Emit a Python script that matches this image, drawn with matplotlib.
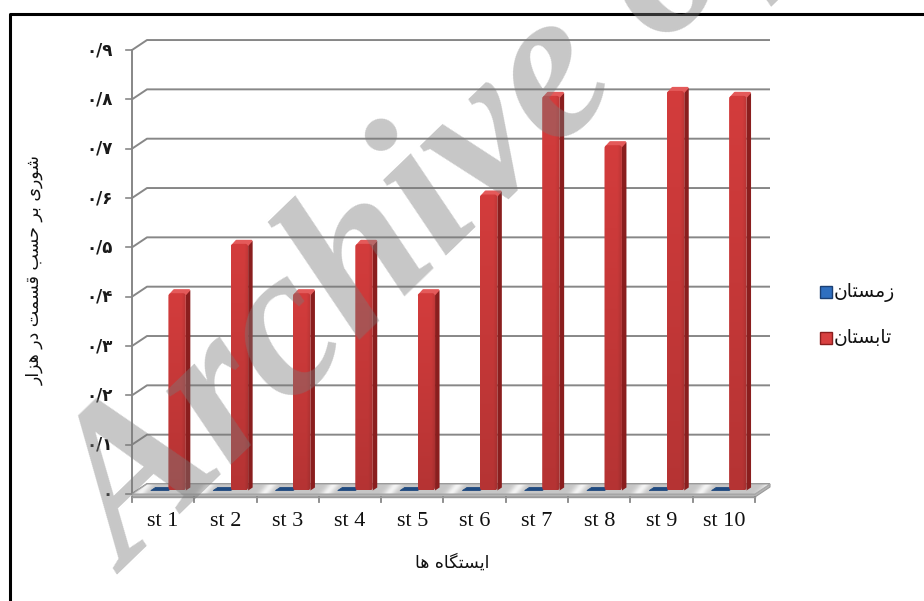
import numpy as np
import matplotlib
matplotlib.use("Agg")
import matplotlib.pyplot as plt
from matplotlib.patches import Polygon, Rectangle, FancyBboxPatch
from matplotlib import font_manager
from matplotlib.ft2font import FT2Font
from matplotlib.colors import to_rgb

# ---- data -------------------------------------------------------------
stations = ["st 1", "st 2", "st 3", "st 4", "st 5",
            "st 6", "st 7", "st 8", "st 9", "st 10"]
winter = [0, 0, 0, 0, 0, 0, 0, 0, 0, 0]
summer = [0.4, 0.5, 0.4, 0.5, 0.4, 0.6, 0.8, 0.7, 0.81, 0.8]
y_ticks = [0.0, 0.1, 0.2, 0.3, 0.4, 0.5, 0.6, 0.7, 0.8, 0.9]
y_tick_labels = ["۰", "۰/۱", "۰/۲", "۰/۳", "۰/۴", "۰/۵", "۰/۶", "۰/۷", "۰/۸", "۰/۹"]
series_names = ["زمستان", "تابستان"]
x_title = "ایستگاه ها"
y_title = "شوری بر حسب قسمت در هزار"
watermark = "Archive of SID"

# ---- simple Arabic-script shaping (contextual forms + right-to-left) ---
ARABIC_FONT = "DejaVu Sans"
_cmap = FT2Font(font_manager.findfont(font_manager.FontProperties(family=ARABIC_FONT))).get_charmap()

def _pick(preferred, fallback):
    return preferred if all(ord(c) in _cmap for c in preferred if c) else fallback

# isolated, final, initial, medial (None -> letter does not join to the next one)
FORMS = {
    "ا": ("\uFE8D", "\uFE8E", None, None),
    "ب": ("\uFE8F", "\uFE90", "\uFE91", "\uFE92"),
    "ت": ("\uFE95", "\uFE96", "\uFE97", "\uFE98"),
    "ح": ("\uFEA1", "\uFEA2", "\uFEA3", "\uFEA4"),
    "د": ("\uFEA9", "\uFEAA", None, None),
    "ر": ("\uFEAD", "\uFEAE", None, None),
    "ز": ("\uFEAF", "\uFEB0", None, None),
    "س": ("\uFEB1", "\uFEB2", "\uFEB3", "\uFEB4"),
    "ش": ("\uFEB5", "\uFEB6", "\uFEB7", "\uFEB8"),
    "ق": ("\uFED5", "\uFED6", "\uFED7", "\uFED8"),
    "م": ("\uFEE1", "\uFEE2", "\uFEE3", "\uFEE4"),
    "ن": ("\uFEE5", "\uFEE6", "\uFEE7", "\uFEE8"),
    "ه": ("\uFEE9", "\uFEEA", "\uFEEB", "\uFEEC"),
    "و": ("\uFEED", "\uFEEE", None, None),
    "ی": _pick(("\uFBFC", "\uFBFD", "\uFBFE", "\uFBFF"),
               ("\uFEEF", "\uFEF0", "\uFEF3", "\uFEF4")),
    "گ": _pick(("\uFB92", "\uFB93", "\uFB94", "\uFB95"),
               ("\uFED9", "\uFEDA", "\uFEDB", "\uFEDC")),
}

def shape(text):
    chars = list(text)
    out = []
    for i, c in enumerate(chars):
        if c not in FORMS:
            out.append(c)
            continue
        prev = chars[i - 1] if i > 0 else None
        nxt = chars[i + 1] if i + 1 < len(chars) else None
        iso, fin, ini, med = FORMS[c]
        join_prev = prev in FORMS and FORMS[prev][2] is not None
        join_next = nxt in FORMS and ini is not None
        if join_prev and join_next:
            out.append(med)
        elif join_prev:
            out.append(fin)
        elif join_next:
            out.append(ini)
        else:
            out.append(iso)
    return "".join(reversed(out))

# ---- geometry of the pseudo-3D plot -------------------------------------
W, H = 924, 601
X0_PX, CAT_PX = 132.0, 62.3      # front-left corner and width of one category
Y0_PX, VAL_PX = 494.0, 493.3     # front floor line and pixels per unit value
DX, DY = 15.0 / CAT_PX, 10.0 / VAL_PX          # depth of the floor
BX, BY = 4.5 / CAT_PX, 3.0 / VAL_PX            # depth of a single bar
BAR_W = 0.28
n = len(stations)

def px_x(px):
    return (px - X0_PX) / CAT_PX

def px_y(py):
    return (Y0_PX - py) / VAL_PX

fig = plt.figure(figsize=(W / 100, H / 100), dpi=100)
fig.patch.set_facecolor("white")
ax = fig.add_axes([0, 0, 1, 1])
ax.set_autoscale_on(False)
ax.set_xlim(px_x(0), px_x(W))
ax.set_ylim(px_y(H), px_y(0))
ax.axis("off")

grid_c = "#878787"

# back wall gridlines and their left-wall connectors
for t, lab in zip(y_ticks, y_tick_labels):
    ax.plot([0, DX, n + DX], [t, t + DY, t + DY], color=grid_c, lw=1.4,
            solid_capstyle="butt", zorder=1)
    ax.plot([px_x(X0_PX - 6), 0], [t, t], color=grid_c, lw=1.2, zorder=1)
    ax.text(px_x(113), t, lab, ha="right", va="center",
            fontsize=12, fontweight="bold", family=ARABIC_FONT, color="#1a1a1a")
ax.plot([0, 0], [0, y_ticks[-1]], color=grid_c, lw=1.4, zorder=1)

# floor slab with soft reflections
floor_poly = [(0, 0), (n, 0), (n + DX, DY), (DX, DY)]
slab = Polygon([(0, 0), (n, 0), (n + DX, DY), (n + DX, DY - 3 / VAL_PX),
                (n, -3 / VAL_PX), (0, -3 / VAL_PX)],
               closed=True, facecolor="#b5b5b5", edgecolor="#9a9a9a", lw=0.8, zorder=2)
ax.add_patch(slab)
floor_patch = Polygon(floor_poly, closed=True, facecolor="none", edgecolor="#a8a8a8",
                      lw=0.8, zorder=2.2)
ax.add_patch(floor_patch)
gx = np.linspace(0, n + DX, 900)
gy = np.linspace(0, DY, 12)
GX, GY = np.meshgrid(gx, gy)
u = GX - GY / DY * DX * 0.5
frac = (u - 0.12) - np.round(u - 0.12)
shine = np.exp(-(frac / 0.09) ** 2)
base = np.array(to_rgb("#c6c6c6"))
hi = np.array(to_rgb("#f4f4f4"))
floor_img = base[None, None, :] * (1 - shine[..., None]) + hi[None, None, :] * shine[..., None]
clip_floor = Polygon(floor_poly, closed=True, transform=ax.transData)
im = ax.imshow(floor_img, extent=[0, n + DX, 0, DY], origin="lower",
               aspect="auto", zorder=2.1, interpolation="bilinear")
im.set_clip_path(clip_floor)

# x tick marks along the front of the floor
for k in range(n + 1):
    ax.plot([k, k], [-3 / VAL_PX, -8 / VAL_PX], color=grid_c, lw=1.3, zorder=2)
ax.plot([0, n], [-3 / VAL_PX, -3 / VAL_PX], color="#9a9a9a", lw=1.0, zorder=2)


def draw_bar(x_left, value, front, side, top, depth=0.35, z=3):
    ox, oy = depth * DX, depth * DY
    x0, y0 = x_left + ox, oy
    x1, y1 = x0 + BAR_W, y0 + value
    if value > 0:
        ax.add_patch(Polygon([(x1, y0), (x1 + BX, y0 + BY), (x1 + BX, y1 + BY), (x1, y1)],
                             closed=True, facecolor=side, edgecolor="none", zorder=z))
        # front face with a slightly rounded top edge
        rect = FancyBboxPatch((x0, y0), BAR_W, value,
                              boxstyle="round,pad=0,rounding_size=0.05",
                              mutation_aspect=(3.5 / VAL_PX) / 0.05,
                              transform=ax.transData)
        fx = np.linspace(0, 1, 40)
        fy = np.linspace(0, 1, 60)
        FX, FY = np.meshgrid(fx, fy)
        c_front = np.array(to_rgb(front))
        shade = 0.86 + 0.14 * FY - 0.10 * np.clip((FX - 0.75) / 0.25, 0, 1)
        img = np.clip(c_front[None, None, :] * shade[..., None], 0, 1)
        ax.add_patch(Polygon([(x0 + 0.02, y1 - 2 / VAL_PX), (x1 - 0.02, y1 - 2 / VAL_PX),
                              (x1 + BX - 0.02, y1 + BY), (x0 + BX + 0.02, y1 + BY)],
                             closed=True, facecolor=top, edgecolor=top, lw=1.5,
                             joinstyle="round", zorder=z + 0.1))
        bim = ax.imshow(img, extent=[x0, x1, y0, y1], origin="lower", aspect="auto",
                        zorder=z + 0.2, interpolation="bilinear")
        bim.set_clip_path(rect)
    else:
        ax.add_patch(Polygon([(x0, y1), (x1, y1), (x1 + BX, y1 + BY), (x0 + BX, y1 + BY)],
                             closed=True, facecolor=top, edgecolor=top, lw=0.6,
                             joinstyle="round", zorder=z + 0.1))


for i in range(n):
    draw_bar(i + 0.22, winter[i], "#2a5a9a", "#16345e", "#1f4a80", z=3)
for i in range(n):
    draw_bar(i + 0.50, summer[i], "#d33c3c", "#8a1e1e", "#e45a5a", z=4)

# category labels and axis titles
for i, s in enumerate(stations):
    ax.text(i + 0.5, px_y(521), s, ha="center", va="center", fontsize=16,
            family="Liberation Serif", color="#111111")
ax.text(px_x(452), px_y(563), shape(x_title), ha="center", va="center",
        fontsize=12.5, family=ARABIC_FONT, color="#111111")
ax.text(px_x(35), px_y(270), shape(y_title), ha="center", va="center",
        rotation=90, fontsize=12.5, family=ARABIC_FONT, color="#111111")

# legend
legend_colors = [("#2f6fc0", "#1b3f73"), ("#d84040", "#8a1e1e")]
for k, (name, (fc, ec)) in enumerate(zip(series_names, legend_colors)):
    cy = 292 + 46 * k
    ax.add_patch(Rectangle((px_x(820), px_y(cy + 6)), 12 / CAT_PX, 12 / VAL_PX,
                           facecolor=fc, edgecolor=ec, lw=1.0, zorder=5))
    ax.text(px_x(834), px_y(cy), shape(name), ha="left", va="center", fontsize=13.5,
            family=ARABIC_FONT, color="#111111")

# outer frame (left and top edges)
ax.plot([px_x(9.5), px_x(9.5), px_x(W)], [px_y(H), px_y(14), px_y(14)],
        color="black", lw=2.2, zorder=6, solid_capstyle="butt")

# diagonal watermark
fig.text(128 / W, 1 - 575 / H, watermark, rotation=44, rotation_mode="anchor",
         ha="left", va="baseline", fontsize=155, family="Liberation Serif",
         fontweight="bold", style="italic", color="#7a7a7a", alpha=0.42, zorder=10)

fig.savefig("out.png", dpi=100, facecolor="white")
